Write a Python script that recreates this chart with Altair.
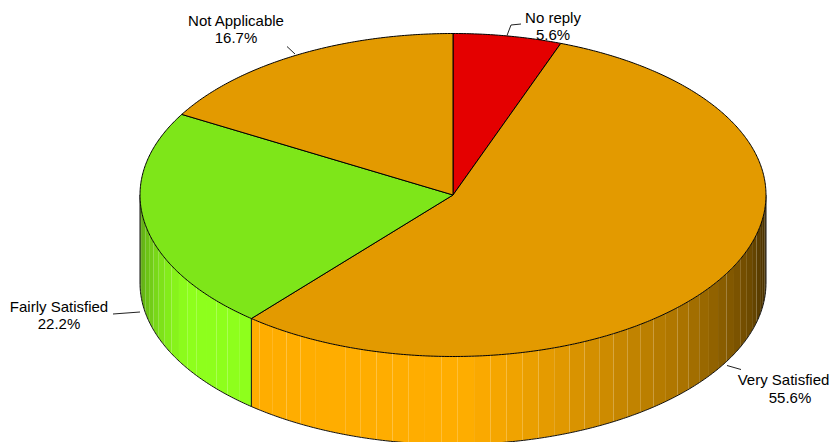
import math
import numpy as np
import altair as alt

# ---- chart values ----
categories = ["No reply", "Very Satisfied", "Fairly Satisfied", "Not Applicable"]
shares = [5.6, 55.6, 22.2, 16.7]
top_colors = ["#E40000", "#E39A00", "#7EE619", "#E39A00"]
side_colors = ["#FF0000", "#FFAD00", "#8EFF1C", "#FFAD00"]

# ---- layout (page pixels) ----
CX, CY, RX, RY, DEPTH = 453.0, 195.0, 313.0, 161.5, 88.0
STEP = 3.0
PAGE = (8, 8, 831, 445)
label_pos = [(553, 553, 18, 35), (783.5, 790, 380, 398), (59, 59, 307, 324), (236, 236, 21, 38)]
leaders = [
    [(507, 35.5), (511, 25), (521, 24)],
    [(727, 365.5), (741, 369.5)],
    [(113, 314), (140, 312)],
    [(287, 46.5), (295, 54)],
]
shade_angle = [90, 99, 108, 121, 133, 148, 160, 170, 178, 238, 246, 255, 262, 270]
shade_value = [0.28, 0.31, 0.42, 0.54, 0.67, 0.78, 0.88, 0.95, 1.0, 1.0, 0.92, 0.8, 0.7, 0.6]


def pt(t, dy=0.0):
    r = math.radians(t)
    return [CX + RX * math.sin(r), CY - RY * math.cos(r) + dy]


def shade(hex_color, f):
    rgb = [int(hex_color[i:i + 2], 16) for i in (1, 3, 5)]
    return "#%02x%02x%02x" % tuple(int(round(c * f)) for c in rgb)


def feature(kind, coords, **props):
    if kind == "Polygon":
        coords = [coords + [coords[0]]]
    return {"type": "Feature", "geometry": {"type": kind, "coordinates": coords}, "properties": props}


cum = np.cumsum([0] + shares) / sum(shares) * 360.0
starts, ends = cum[:-1], cum[1:]

strips, tops = [], []
for s, e, tc, sc in zip(starts, ends, top_colors, side_colors):
    tops.append(feature("Polygon", [[CX, CY]] + [pt(t) for t in np.linspace(s, e, int((e - s) * 2) + 2)], fill=tc))
    a = s
    while a < e - 1e-6:
        b = min(a + STEP, e)
        lo, hi = max(a, 90.0), min(b, 270.0)
        if lo < hi:
            f = float(np.interp((lo + hi) / 2, shade_angle, shade_value))
            strips.append(feature("Polygon", [pt(lo), pt(hi), pt(hi, DEPTH), pt(lo, DEPTH)], fill=shade(sc, f)))
        a = b

outline = [
    feature("LineString", [pt(t, DEPTH) for t in np.arange(90, 270.5, 0.5)]),
    feature("LineString", [pt(90), pt(90, DEPTH)]),
    feature("LineString", [pt(270), pt(270, DEPTH)]),
    feature("LineString", [pt(ends[1]), pt(ends[1], DEPTH)]),
]
leader_feats = [feature("LineString", [list(p) for p in l]) for l in leaders]
x0, y0, x1, y1 = PAGE
frame = [feature("LineString", [[x0, y0], [x1, y0], [x1, y1], [x0, y1], [x0, y0]])]

text_rows = []
for c, v, (xa, xb, ya, yb) in zip(categories, shares, label_pos):
    text_rows.append({"t": c, "lon": xa, "lat": ya})
    text_rows.append({"t": f"{v}%", "lon": xb, "lat": yb})

proj = alt.Projection(type="identity").to_dict()


def geo(values):
    return alt.Chart(alt.Data(values=values)).project(**proj)


frame_layer = geo(frame).mark_geoshape(filled=False, stroke="#FFFFFF", strokeWidth=0, opacity=0)
strip_layer = geo(strips).mark_geoshape(filled=True, strokeWidth=0).encode(
    color=alt.Color("properties.fill:N", scale=None))
outline_layer = geo(outline).mark_geoshape(filled=False, stroke="#111111", strokeWidth=1)
top_layer = geo(tops).mark_geoshape(filled=True, stroke="#000000", strokeWidth=1).encode(
    color=alt.Color("properties.fill:N", scale=None))
leader_layer = geo(leader_feats).mark_geoshape(filled=False, stroke="#222222", strokeWidth=1)
text_layer = alt.Chart(alt.Data(values=text_rows)).mark_text(
    font="Liberation Sans", fontSize=15, color="#000000", align="center", baseline="middle"
).encode(longitude="lon:Q", latitude="lat:Q", text="t:N").project(**proj)

chart = alt.layer(frame_layer, strip_layer, outline_layer, top_layer, leader_layer, text_layer).properties(
    width=x1 - x0, height=y1 - y0, padding=0, autosize=alt.AutoSizeParams(type="none"),
    background="#FFFFFF",
).configure_view(stroke=None)

chart.save("out.html", embed_options={"renderer": "svg", "actions": False})
